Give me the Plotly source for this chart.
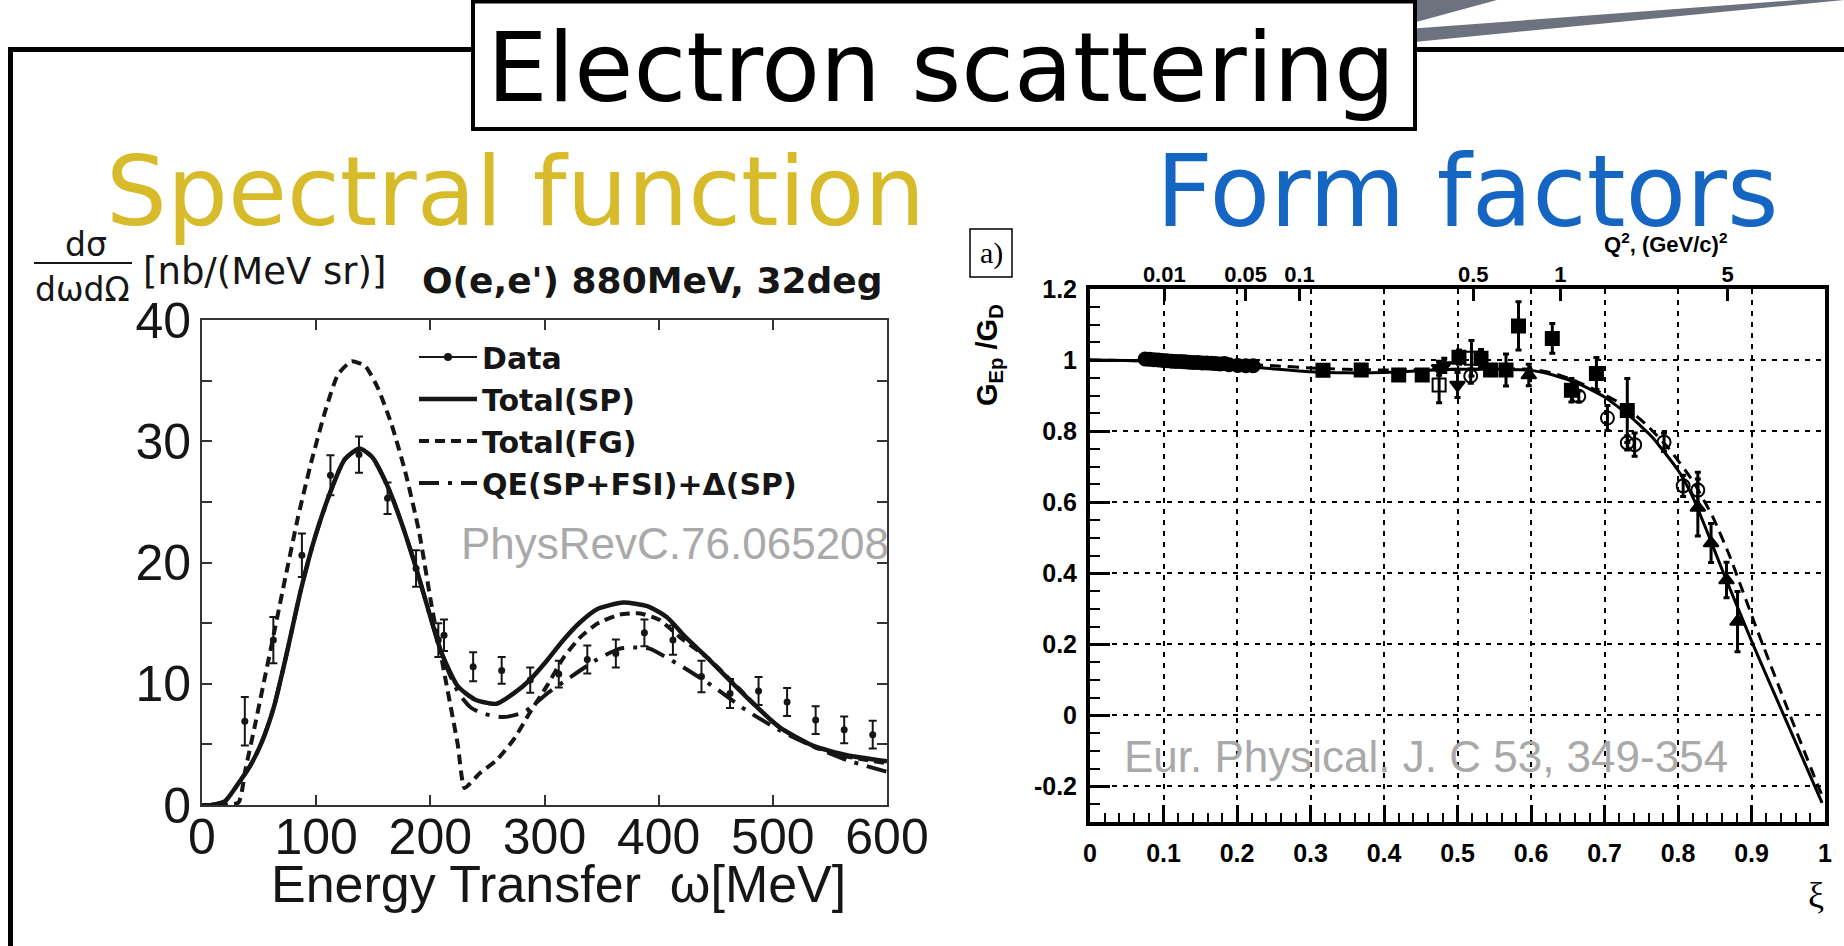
import math
import plotly.graph_objects as go

W, H = 1844, 946


def px(x):
    return x / W


def py(y):
    return 1 - y / H


# ---------------- Left panel: O(e,e') 880 MeV, 32 deg ----------------
omega_data = [37.5, 62.5, 87.5, 112.5, 137.5, 162.5, 187.5, 207, 212, 237.5, 262.5, 287.5,
              312.5, 337.5, 362.5, 387.5, 412.5, 437.5, 462.5, 487.5, 512.5, 537.5, 562.5, 587.5]
xsec_data = [6.9, 13.6, 20.6, 27.2, 28.9, 25.3, 19.5, 13.6, 14.0, 11.4, 11.1, 10.3,
             10.8, 12.0, 12.5, 14.2, 13.6, 10.6, 9.2, 9.4, 8.5, 7.0, 6.2, 5.8]
xsec_err = [2.0, 1.9, 1.8, 1.65, 1.5, 1.3, 1.5, 1.4, 1.3, 1.2, 1.1, 1.05,
            1.1, 1.15, 1.15, 1.1, 1.2, 1.3, 1.2, 1.15, 1.15, 1.15, 1.1, 1.15]

omega_sp = [8, 20, 32, 42, 52, 63, 73, 87, 99, 114, 125, 138, 149, 163, 175, 188, 201, 210,
            224, 239, 251, 258, 273, 287, 302, 316, 331, 346, 369, 390, 407, 424, 442, 462,
            483, 506, 535, 565, 600]
xsec_sp = [0, 0.3, 1.8, 3.2, 5.1, 8.1, 12.0, 17.9, 22.1, 26.2, 28.5, 29.4, 28.7, 26.2, 23.2,
           19.4, 15.2, 12.5, 9.8, 8.7, 8.4, 8.35, 9.2, 10.3, 11.9, 13.55, 15.05, 16.15, 16.7,
           16.4, 15.5, 13.8, 12.2, 10.3, 8.35, 6.4, 4.9, 4.1, 3.6]

omega_fg = [0, 15, 32, 38, 46, 55, 64, 73, 84, 96, 108, 119, 131, 143, 154, 166, 178, 190,
            201, 213, 224, 230, 243, 258, 273, 287, 302, 317, 331, 346, 366, 384, 401, 419,
            442, 463, 486, 506, 536, 565, 600]
xsec_fg = [0, 0, 0.2, 2.9, 6.4, 10.5, 14.6, 18.75, 23.7, 28.4, 32.5, 35.5, 36.6, 36.2, 34.4,
           31.4, 27.5, 22.6, 16.5, 10.5, 5.0, 1.4, 2.6, 3.7, 5.4, 7.6, 9.8, 12.2, 13.8, 14.95,
           15.7, 15.8, 15.25, 13.8, 12.2, 10.3, 8.1, 6.4, 4.8, 4.0, 3.45]

omega_qe = [8, 20, 32, 42, 52, 63, 73, 87, 99, 114, 125, 138, 149, 163, 175, 188, 201, 212,
            225, 236, 248, 264, 282, 302, 322, 346, 366, 381, 392, 419, 448, 477, 506, 536,
            565, 600]
xsec_qe = [0, 0.3, 1.8, 3.2, 5.1, 8.1, 12.0, 17.9, 22.1, 26.2, 28.5, 29.4, 28.7, 26.2, 23.2,
           19.4, 15.2, 11.9, 9.2, 8.0, 7.5, 7.25, 7.66, 9.17, 10.5, 12.0, 12.9, 13.0, 12.9,
           11.5, 9.76, 7.8, 6.16, 4.8, 3.7, 2.74]

left_xticks = [0, 100, 200, 300, 400, 500, 600]
left_yticks = [0, 5, 10, 15, 20, 25, 30, 35, 40]
left_ylabels = ["0", "", "10", "", "20", "", "30", "", "40"]

# ---------------- Right panel: G_Ep / G_D vs xi ----------------
xi_fit1 = [0, 0.05, 0.1, 0.15, 0.2, 0.25, 0.3, 0.35, 0.4, 0.45, 0.5, 0.55, 0.6, 0.63, 0.665,
           0.7, 0.733, 0.765, 0.8, 0.82, 0.84, 0.862, 0.902, 0.944, 0.996]
g_fit1 = [1.0, 0.999, 0.995, 0.99, 0.984, 0.975, 0.967, 0.964, 0.965, 0.97, 0.974, 0.974,
          0.971, 0.958, 0.933, 0.896, 0.845, 0.783, 0.69, 0.615, 0.515, 0.40, 0.2, 0.0, -0.246]

xi_fit2 = [0, 0.1, 0.2, 0.25, 0.3, 0.35, 0.4, 0.5, 0.6, 0.63, 0.656, 0.693, 0.724, 0.756,
           0.788, 0.82, 0.847, 0.87, 0.905, 0.945, 0.985, 0.996]
g_fit2 = [1.0, 0.997, 0.988, 0.984, 0.978, 0.974, 0.972, 0.974, 0.974, 0.963, 0.945, 0.91,
          0.875, 0.82, 0.75, 0.66, 0.56, 0.45, 0.255, 0.04, -0.17, -0.225]

xi_circ = [0.075, 0.081, 0.087, 0.093, 0.099, 0.105, 0.111, 0.117, 0.123, 0.129, 0.135, 0.141,
           0.147, 0.153, 0.159, 0.165, 0.171, 0.177, 0.183, 0.189, 0.201, 0.212, 0.222]
g_circ = [1.003, 1.002, 1.001, 1.0, 0.999, 0.998, 0.997, 0.996, 0.996, 0.995, 0.994, 0.993,
          0.993, 0.992, 0.992, 0.991, 0.99, 0.989, 0.99, 0.987, 0.985, 0.984, 0.984]

xi_sq = [0.317, 0.369, 0.42, 0.452, 0.502, 0.532, 0.545, 0.566, 0.583, 0.629, 0.655, 0.689, 0.731]
g_sq = [0.971, 0.972, 0.958, 0.958, 1.008, 1.005, 0.972, 0.972, 1.096, 1.061, 0.915, 0.962, 0.858]
e_sq = [0.01, 0.01, 0.01, 0.01, 0.02, 0.025, 0.015, 0.045, 0.068, 0.042, 0.033, 0.045, 0.09]

xi_osq = [0.475, 0.519]
g_osq = [0.93, 1.005]
e_osq = [0.05, 0.05]

xi_tdn = [0.475, 0.482, 0.5]
g_tdn = [0.977, 0.985, 0.93]
e_tdn = [0.02, 0.02, 0.035]

xi_ocirc = [0.518, 0.665, 0.704, 0.731, 0.741, 0.781, 0.807, 0.827]
g_ocirc = [0.955, 0.898, 0.837, 0.767, 0.762, 0.769, 0.646, 0.634]
e_ocirc = [0.02, 0.015, 0.035, 0.02, 0.033, 0.026, 0.03, 0.05]

xi_tup = [0.597, 0.827, 0.845, 0.866, 0.881]
g_tup = [0.958, 0.585, 0.485, 0.381, 0.264]
e_tup = [0.03, 0.08, 0.055, 0.05, 0.085]

right_xticks = [0, 0.1, 0.2, 0.3, 0.4, 0.5, 0.6, 0.7, 0.8, 0.9, 1.0]
right_xlabels = ["0", "0.1", "0.2", "0.3", "0.4", "0.5", "0.6", "0.7", "0.8", "0.9", "1"]
right_yticks = [-0.2, 0, 0.2, 0.4, 0.6, 0.8, 1.0, 1.2]
right_ylabels = ["-0.2", "0", "0.2", "0.4", "0.6", "0.8", "1", "1.2"]

q2_values = [0.01, 0.05, 0.1, 0.5, 1, 5]
q2_labels = ["0.01", "0.05", "0.1", "0.5", "1", "5"]
M_P = 0.938
xi_of_q2 = [2 / (1 + math.sqrt(1 + 4 * M_P ** 2 / q)) for q in q2_values]

# ---------------- styles ----------------
INK = "#161616"
TICKL = dict(family="Liberation Sans, Arial, sans-serif", size=50, color=INK)
BOLDR = dict(family="Liberation Sans, Arial, sans-serif", size=25, color="black", weight="bold")
GOLD = "#D7BB2A"
BLUE = "#1565C2"
GRAY = "#A9A9A9"

fig = go.Figure()

# left panel traces
fig.add_trace(go.Scatter(x=[None], y=[None], mode="lines+markers", name="Data",
                         line=dict(color=INK, width=2), marker=dict(size=8, color=INK),
                         xaxis="x", yaxis="y"))
fig.add_trace(go.Scatter(x=omega_sp, y=xsec_sp, mode="lines", name="Total(SP)",
                         line=dict(color=INK, width=4.5, shape="spline", smoothing=0.6),
                         xaxis="x", yaxis="y"))
fig.add_trace(go.Scatter(x=omega_fg, y=xsec_fg, mode="lines", name="Total(FG)",
                         line=dict(color=INK, width=4, dash="10px,6px", shape="spline", smoothing=0.5),
                         xaxis="x", yaxis="y"))
fig.add_trace(go.Scatter(x=omega_qe, y=xsec_qe, mode="lines", name="QE(SP+FSI)+Δ(SP)",
                         line=dict(color=INK, width=4, dash="20px,9px,4px,9px", shape="spline",
                                   smoothing=0.6),
                         xaxis="x", yaxis="y"))
fig.add_trace(go.Scatter(x=omega_data, y=xsec_data, mode="markers", showlegend=False,
                         marker=dict(size=7, color=INK),
                         error_y=dict(type="data", array=xsec_err, color=INK, thickness=2, width=4),
                         xaxis="x", yaxis="y"))

# right panel traces
fig.add_trace(go.Scatter(x=xi_fit2, y=g_fit2, mode="lines", showlegend=False,
                         line=dict(color="black", width=3, dash="11px,7px", shape="spline", smoothing=0.5),
                         xaxis="x2", yaxis="y2"))
fig.add_trace(go.Scatter(x=xi_fit1, y=g_fit1, mode="lines", showlegend=False,
                         line=dict(color="black", width=3, shape="spline", smoothing=0.5),
                         xaxis="x2", yaxis="y2"))

EB = dict(type="data", color="black", thickness=3, width=3)


def pts(xv, yv, ev, sym, size):
    d = dict(x=xv, y=yv, mode="markers", showlegend=False, xaxis="x2", yaxis="y2",
             marker=dict(symbol=sym, size=size, color="black", line=dict(color="black", width=2)))
    if ev is not None:
        d["error_y"] = dict(EB, array=ev)
    return go.Scatter(**d)


fig.add_trace(pts(xi_circ, g_circ, None, "circle", 13))
fig.add_trace(pts(xi_sq, g_sq, e_sq, "square", 13))
fig.add_trace(pts(xi_osq, g_osq, e_osq, "square-open", 13))
fig.add_trace(pts(xi_tdn, g_tdn, e_tdn, "triangle-down", 13))
fig.add_trace(pts(xi_ocirc, g_ocirc, e_ocirc, "circle-open", 13))
fig.add_trace(pts(xi_tup, g_tup, e_tup, "triangle-up", 13))
# anchor trace for the top Q^2 axis
fig.add_trace(go.Scatter(x=[None], y=[None], showlegend=False, xaxis="x3", yaxis="y2"))

# ---------------- layout ----------------
GRID = dict(showgrid=True, gridcolor="black", gridwidth=1.6, griddash="5px,6px")

fig.update_layout(
    template="none",
    width=W, height=H, margin=dict(l=0, r=0, t=0, b=0, pad=0, autoexpand=False),
    paper_bgcolor="white", plot_bgcolor="white",
    showlegend=True,
    legend=dict(x=px(414), y=py(331), xanchor="left", yanchor="top",
                bgcolor="rgba(0,0,0,0)", borderwidth=0, itemwidth=58,
                font=dict(family="DejaVu Sans, sans-serif", size=30, color=INK, weight="bold"),
                traceorder="normal"),
    xaxis=dict(domain=[px(202), px(887)], range=[0, 600], anchor="y", automargin=False,
               tickvals=left_xticks, ticktext=[str(v) for v in left_xticks],
               ticks="inside", ticklen=10, tickwidth=2, tickcolor="#333",
               showline=True, linecolor="#333", linewidth=2, mirror="ticks",
               showgrid=False, zeroline=False, tickfont=TICKL, ticklabelstandoff=-13),
    yaxis=dict(domain=[py(805), py(320)], range=[0, 40], anchor="x", automargin=False,
               tickvals=left_yticks, ticktext=left_ylabels,
               ticks="inside", ticklen=10, tickwidth=2, tickcolor="#333",
               showline=True, linecolor="#333", linewidth=2, mirror="ticks",
               showgrid=False, zeroline=False, tickfont=TICKL, ticklabelstandoff=-1),
    xaxis2=dict(domain=[px(1090), px(1825)], range=[0, 1], anchor="y2", automargin=False,
                tickvals=right_xticks, ticktext=right_xlabels,
                ticks="inside", ticklen=17, tickwidth=3, tickcolor="black",
                minor=dict(dtick=0.02, tick0=0, ticks="inside", ticklen=9, tickwidth=2,
                           tickcolor="black", showgrid=False),
                showline=True, linecolor="black", linewidth=4, mirror=True,
                zeroline=False, tickfont=BOLDR, ticklabelstandoff=6, **GRID),
    yaxis2=dict(domain=[py(822), py(289)], range=[-0.3, 1.2], anchor="x2", automargin=False,
                tickvals=right_yticks, ticktext=right_ylabels,
                ticks="inside", ticklen=20, tickwidth=3, tickcolor="black",
                minor=dict(dtick=0.05, tick0=0, ticks="inside", ticklen=10, tickwidth=2,
                           tickcolor="black", showgrid=False),
                showline=True, linecolor="black", linewidth=4, mirror=True,
                zeroline=False, tickfont=BOLDR, ticklabelstandoff=4, **GRID),
    xaxis3=dict(overlaying="x2", anchor="y2", side="top", range=[0, 1], automargin=False,
                tickvals=xi_of_q2, ticktext=q2_labels,
                ticks="inside", ticklen=12, tickwidth=3, tickcolor="black",
                showline=False, showgrid=False, zeroline=False,
                tickfont=dict(BOLDR, size=22), ticklabelstandoff=2),
)

# ---------------- slide decoration ----------------
shapes = [
    dict(type="line", xref="paper", yref="paper", x0=px(8), x1=1.0, y0=py(49.5), y1=py(49.5),
         line=dict(color="black", width=5)),
    dict(type="line", xref="paper", yref="paper", x0=px(10.5), x1=px(10.5), y0=py(47), y1=0,
         line=dict(color="black", width=5)),
    dict(type="path", xref="paper", yref="paper",
         path=f"M {px(1417)},{py(0)} L {px(1417)},{py(21.7)} L {px(1497)},{py(0)} Z",
         fillcolor="#6D737E", line=dict(width=0)),
    dict(type="path", xref="paper", yref="paper",
         path=f"M {px(1417)},{py(28.3)} L {px(1798)},{py(0)} L {px(1844)},{py(0)} L {px(1417)},{py(41.7)} Z",
         fillcolor="#6D737E", line=dict(width=0)),
    dict(type="rect", xref="paper", yref="paper", x0=px(473), x1=px(1415), y0=py(129), y1=py(1.5),
         fillcolor="white", line=dict(color="black", width=4)),
    # fraction bar of d sigma / d omega d Omega
    dict(type="line", xref="paper", yref="paper", x0=px(34), x1=px(132), y0=py(263), y1=py(263),
         line=dict(color=INK, width=2)),
    # box around "a)"
    dict(type="rect", xref="paper", yref="paper", x0=px(970), x1=px(1012), y0=py(277), y1=py(229),
         line=dict(color="black", width=1.5)),
]
fig.update_layout(shapes=shapes)


def ann(text, x, y, font, xanchor="center", yanchor="middle", textangle=0):
    return dict(text=text, x=px(x), y=py(y), xref="paper", yref="paper", showarrow=False,
                xanchor=xanchor, yanchor=yanchor, font=font, textangle=textangle)


DJ = "DejaVu Sans, sans-serif"
annotations = [
    ann("Electron scattering", 941, 68, dict(family=DJ, size=96, color="black")),
    ann("Spectral function", 515, 192, dict(family=DJ, size=96, color=GOLD)),
    ann("Form factors", 1467, 192, dict(family=DJ, size=99, color=BLUE)),
    ann("dσ", 86, 245, dict(family=DJ, size=33, color=INK)),
    ann("dωdΩ", 82, 290, dict(family=DJ, size=33, color=INK)),
    ann("[nb/(MeV sr)]", 141, 271, dict(family=DJ, size=37, color=INK), xanchor="left"),
    ann("O(e,e') 880MeV, 32deg", 652, 280, dict(family=DJ, size=36, color=INK, weight="bold")),
    ann("PhysRevC.76.065208", 675, 543, dict(family="Liberation Sans, Arial", size=44, color=GRAY)),
    ann("Energy Transfer  ω[MeV]", 558, 884, dict(family="Liberation Sans, Arial", size=52, color=INK)),
    ann("a)", 991, 253, dict(family="Liberation Serif, Times New Roman, serif", size=30, color="black")),
    ann("G<sub>Ep</sub> /G<sub>D</sub>", 989, 355,
        dict(family="Liberation Sans, Arial", size=29, color="black", weight="bold"), textangle=-90),
    ann("Q<sup>2</sup>, (GeV/c)<sup>2</sup>", 1666, 243,
        dict(family="Liberation Sans, Arial", size=22, color="black", weight="bold")),
    ann("ξ", 1816, 895, dict(family="Liberation Serif, Times New Roman, serif", size=36, color="black")),
    ann("Eur. Physical. J. C 53, 349-354", 1426, 756,
        dict(family="Liberation Sans, Arial", size=44, color=GRAY)),
]
fig.update_layout(annotations=annotations)

fig.write_html("out.html")
